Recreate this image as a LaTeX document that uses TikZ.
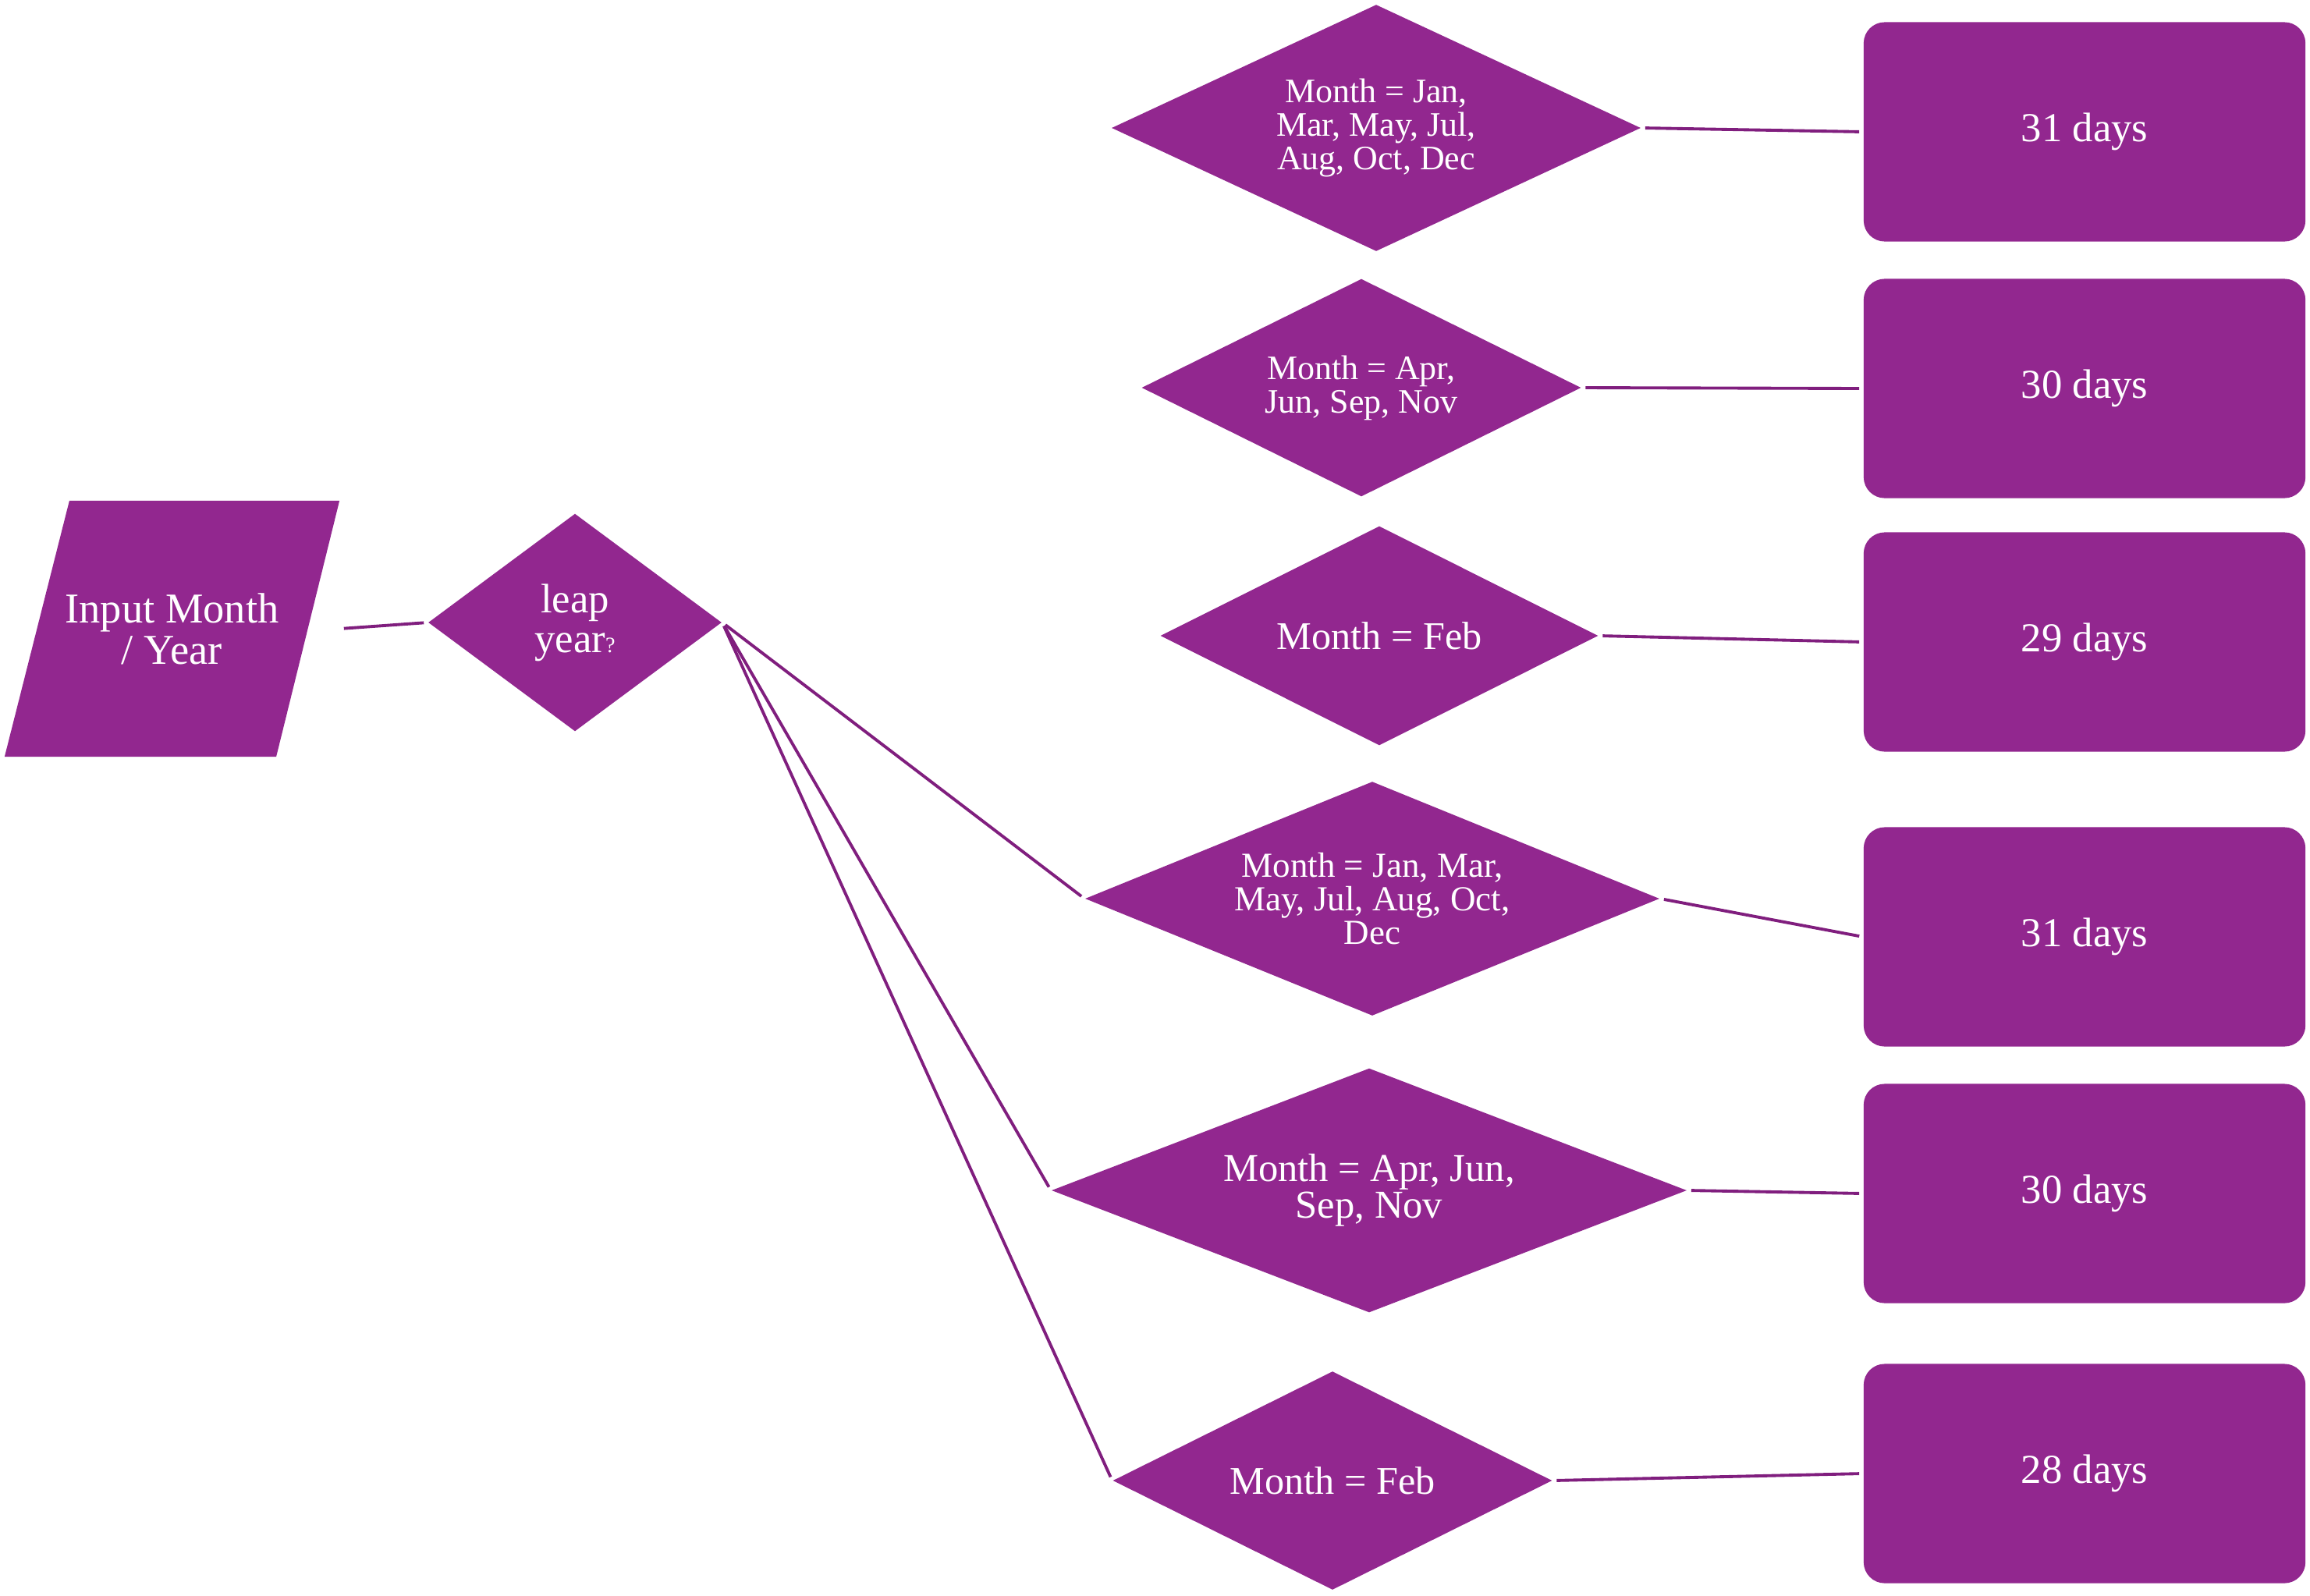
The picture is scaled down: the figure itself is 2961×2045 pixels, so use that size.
\documentclass[tikz,border=0pt]{standalone}
\usepackage{fontspec}
\setmainfont{Liberation Serif}
\usetikzlibrary{shapes.geometric}
\definecolor{vfill}{RGB}{146,39,143}
\definecolor{vline}{RGB}{128,30,126}
\begin{document}
\begin{tikzpicture}[x=0.01cm,y=-0.01cm,
  dec/.style={diamond, fill=vfill, text=white, inner sep=0pt, align=center},
  res/.style={rectangle, rounded corners=0.27cm, fill=vfill, text=white,
    minimum width=5.66cm, minimum height=2.81cm, inner sep=0pt,
    font=\fontsize{15}{15}\selectfont},
  inbox/.style={rectangle, fill=white, text=white, inner sep=0pt, align=center,
    minimum width=4.29cm, minimum height=3.28cm,
    font=\fontsize{15.5}{15}\selectfont,
    path picture={\fill[vfill] ([xshift=0.83cm]path picture bounding box.north west)
      -- (path picture bounding box.north east)
      -- ([xshift=-0.81cm]path picture bounding box.south east)
      -- (path picture bounding box.south west) -- cycle;}},
  conn/.style={draw=vline, line width=1.1pt, shorten <=0.05cm, shorten >=0.05cm}]
\useasboundingbox (0,0) rectangle (2961,2045);

\node[inbox] (inp) at (220.5,806) {Input Month\\/ Year};
\node[dec, aspect=1.35, minimum width=3.76cm, minimum height=2.79cm,
  font=\fontsize{15}{14.5}\selectfont] (leap) at (737,798)
  {leap\\year{\fontsize{8}{8}\selectfont ?}};

\node[dec, aspect=2.15, minimum width=6.78cm, minimum height=3.16cm,
  font=\fontsize{12.5}{12.2}\selectfont] (d1) at (1764,164)
  {Month = Jan,\\Mar, May, Jul,\\Aug, Oct, Dec};
\node[dec, aspect=2.02, minimum width=5.63cm, minimum height=2.79cm,
  font=\fontsize{12.5}{12.2}\selectfont] (d2) at (1745,497)
  {Month = Apr,\\Jun, Sep, Nov};
\node[dec, aspect=2, minimum width=5.61cm, minimum height=2.81cm,
  font=\fontsize{14.3}{14}\selectfont] (d3) at (1768,815)
  {Month = Feb};
\node[dec, aspect=2.45, minimum width=7.36cm, minimum height=3.00cm,
  font=\fontsize{12.8}{12.2}\selectfont] (d4) at (1759,1152)
  {Month = Jan, Mar,\\May, Jul, Aug, Oct,\\Dec};
\node[dec, aspect=2.6, minimum width=8.14cm, minimum height=3.13cm,
  font=\fontsize{14.4}{13.4}\selectfont] (d5) at (1755,1526)
  {Month = Apr, Jun,\\Sep, Nov};
\node[dec, aspect=2, minimum width=5.63cm, minimum height=2.80cm,
  font=\fontsize{14.3}{14}\selectfont] (d6) at (1708,1898)
  {Month = Feb};

\node[res] (r1) at (2672,169) {31 days};
\node[res] (r2) at (2672,498) {30 days};
\node[res] (r3) at (2672,823) {29 days};
\node[res] (r4) at (2672,1201) {31 days};
\node[res] (r5) at (2672,1530) {30 days};
\node[res] (r6) at (2672,1889) {28 days};

\draw[conn] (inp.east) -- (leap.west);
\draw[conn] (leap.east) -- (d4.west);
\draw[conn] (leap.east) -- (d5.west);
\draw[conn] (leap.east) -- (d6.west);
\draw[conn] (d1.east) -- (r1.west);
\draw[conn] (d2.east) -- (r2.west);
\draw[conn] (d3.east) -- (r3.west);
\draw[conn] (d4.east) -- (r4.west);
\draw[conn] (d5.east) -- (r5.west);
\draw[conn] (d6.east) -- (r6.west);
\end{tikzpicture}
\end{document}
